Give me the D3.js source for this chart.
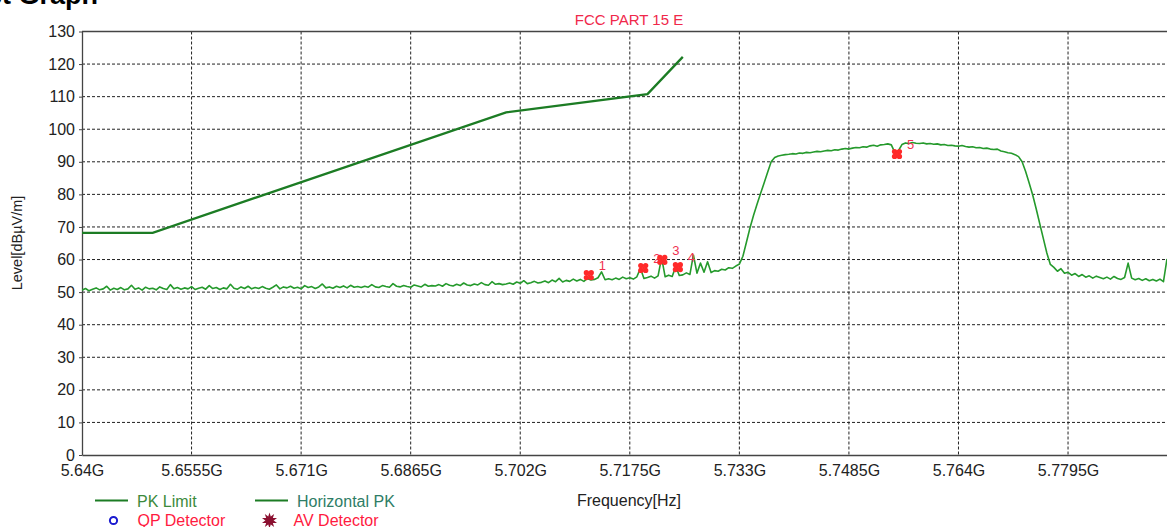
<!DOCTYPE html>
<html>
<head>
<meta charset="utf-8">
<script src="https://cdn.jsdelivr.net/npm/d3@7"></script>
<style>
  html, body { margin: 0; padding: 0; background: #fff; overflow: hidden; }
  svg { display: block; font-family: Arial, "Liberation Sans", sans-serif; }
</style>
</head>
<body>
<svg id="chart" width="1167" height="527"></svg>
<script>
// ---------------- DATA ----------------
const chartTitle = "FCC PART 15 E";
const xTickValues = [5.64, 5.6555, 5.671, 5.6865, 5.702, 5.7175, 5.733, 5.7485, 5.764, 5.7795];
const xTickLabels = ["5.64G", "5.6555G", "5.671G", "5.6865G", "5.702G", "5.7175G", "5.733G", "5.7485G", "5.764G", "5.7795G"];
const yTickValues = [0, 10, 20, 30, 40, 50, 60, 70, 80, 90, 100, 110, 120, 130];

// PK limit line (GHz, dBµV/m)
const limitFreqs = [5.64, 5.65, 5.70, 5.72, 5.725];
const limitLevels = [68.2, 68.2, 105.2, 110.8, 122.2];

// Horizontal PK trace: analyzer sweep start / step (GHz) and measured levels
const sweepStart = 5.64;
const sweepStep = 0.0005;
const hpkLevels = [
  50.6, 51.1, 50.4, 50.9, 51.3, 50.7, 51.0, 51.8, 50.6, 51.2,
  50.8, 51.4, 50.7, 51.0, 52.1, 50.9, 51.3, 50.6, 51.5, 51.0,
  51.2, 50.7, 51.6, 51.1, 50.8, 52.3, 51.0, 51.4, 50.9, 51.3,
  51.0, 51.7, 50.8, 51.2, 51.5, 50.9, 52.0, 51.1, 51.4, 50.8,
  51.3, 51.0, 52.4, 51.2, 50.9, 51.6, 51.1, 51.8, 51.0, 51.4,
  51.1, 51.7, 51.2, 50.9, 51.5, 52.2, 51.0, 51.6, 51.3, 51.8,
  51.2, 51.5, 51.0, 52.0, 51.4, 51.7, 51.1, 51.6, 52.5, 51.3,
  51.6, 51.2, 51.8, 51.4, 51.9, 51.3, 52.1, 51.5, 51.7, 51.4,
  51.8, 51.5, 52.3, 51.6, 51.4, 52.0, 51.7, 51.5, 52.6, 51.8,
  51.6, 52.0, 51.7, 51.5, 52.2, 51.9, 51.6, 52.4, 51.8, 52.0,
  51.9, 52.3, 51.8, 52.6, 52.1, 51.9, 52.4, 52.0, 52.8, 52.2,
  52.0, 52.5, 52.2, 52.9, 52.3, 52.1, 53.2, 52.4, 52.6, 52.3,
  52.5, 52.8, 52.4, 53.1, 52.7, 53.5, 52.6, 52.9, 53.3, 52.8,
  53.0, 53.4, 52.9, 53.7, 53.2, 54.2, 53.1, 53.6, 53.3, 54.0,
  53.4, 53.9, 53.3, 54.2, 53.7, 53.9, 54.4, 56.2, 53.8, 54.1,
  53.8, 54.3, 53.9, 54.6, 54.1, 54.4, 54.0, 54.7, 57.3, 54.2,
  54.5, 54.9, 54.3, 55.0, 60.6, 54.7, 55.2, 54.8, 57.9, 55.1,
  55.3, 55.9, 55.4, 61.4, 55.8, 58.9, 56.1, 59.3, 56.0, 56.6,
  56.4, 57.0, 56.8, 57.5, 57.3, 58.0, 58.6, 61.0, 65.3, 69.7,
  73.5, 77.0, 80.3, 83.5, 86.8, 90.0, 91.3, 91.8, 92.0, 92.2,
  92.3, 92.5, 92.4, 92.7, 92.6, 92.9, 92.8, 93.0, 93.2, 93.1,
  93.3, 93.5, 93.4, 93.7, 93.6, 93.9, 94.1, 93.9, 94.2, 94.4,
  94.3, 94.6, 94.5, 94.9, 95.1, 94.8, 95.2, 95.3, 95.5, 95.2,
  92.8, 93.4, 95.3, 95.8, 95.6, 95.9, 95.7, 95.6, 95.8, 95.5,
  95.6, 95.4, 95.5, 95.2, 95.3, 95.0, 95.1, 94.9, 94.8, 95.0,
  94.7, 94.5, 94.6, 94.3, 94.4, 94.1, 94.2, 93.9, 93.8, 93.9,
  93.3, 93.1, 92.8, 92.6, 92.2, 91.6, 90.0, 87.0, 83.5, 79.8,
  75.5, 71.0, 66.5, 62.0, 58.5, 57.6, 56.4, 57.2, 55.8, 56.1,
  55.2, 55.7, 54.8, 55.4, 54.6, 55.0, 54.3, 54.9, 54.5, 54.1,
  54.6, 54.0, 54.8, 54.2, 53.9, 54.5, 58.9, 54.3, 53.8, 54.2,
  53.6, 54.1, 53.5, 53.9, 53.4, 54.0, 53.2, 60.2
];

// Marker points
const markerIds = ["1", "2", "3", "4", "5"];
const markerFreqs = [5.7117, 5.7194, 5.7221, 5.7243, 5.7553];
const markerLevels = [55.2, 57.4, 59.9, 57.7, 92.4];

// Legend
const legendLines = ["PK Limit", "Horizontal PK"];
const legendDetectors = ["QP Detector", "AV Detector"];

// ---------------- DRAW ----------------
(function draw() {
const svg = d3.select("#chart");
const W = 1167;
const pL = 82, pT = 31.5, pB = 455;
const xStep = 109.56;

const x = d3.scaleLinear().domain([5.64, 5.795]).range([pL, pL + 10 * xStep]);
const y = d3.scaleLinear().domain([0, 130]).range([pB, pT]);

// cut-off heading at top-left
svg.append("text")
  .attr("x", 98).attr("y", 4)
  .attr("text-anchor", "end")
  .attr("font-size", 27).attr("font-weight", "bold")
  .attr("fill", "#000")
  .text("Test Graph");

// title
svg.append("text")
  .attr("x", 629).attr("y", 25)
  .attr("text-anchor", "middle")
  .attr("font-size", 15)
  .attr("fill", "#f0284a")
  .text(chartTitle);

// grid
const grid = svg.append("g");
grid.selectAll("line.h").data(yTickValues.filter(v => v > 0 && v < 130)).join("line")
  .attr("x1", pL).attr("x2", W)
  .attr("y1", d => y(d)).attr("y2", d => y(d))
  .attr("stroke", "#222").attr("stroke-width", 1).attr("stroke-dasharray", "3,2");
grid.selectAll("line.v").data(xTickValues.slice(1)).join("line")
  .attr("x1", d => x(d)).attr("x2", d => x(d))
  .attr("y1", pT).attr("y2", pB)
  .attr("stroke", "#222").attr("stroke-width", 1).attr("stroke-dasharray", "3,2");

// axes
const yAxis = d3.axisLeft(y).tickValues(yTickValues).tickSize(3).tickSizeOuter(0).tickPadding(4);
const gy = svg.append("g").attr("transform", `translate(${pL},0)`).call(yAxis);
gy.select(".domain").attr("stroke", "#444").attr("stroke-width", 1.3);
gy.selectAll(".tick line").attr("stroke", "#444");
gy.selectAll("text").attr("font-size", 16).attr("fill", "#222").attr("font-family", "Arial, 'Liberation Sans', sans-serif");

const xAxis = d3.axisBottom(x).tickValues(xTickValues).tickFormat((d, i) => xTickLabels[i])
  .tickSize(0).tickSizeOuter(0).tickPadding(10);
const gx = svg.append("g").attr("transform", `translate(0,${pB})`).call(xAxis);
gx.select(".domain").attr("stroke", "#444").attr("stroke-width", 1.3);
gx.selectAll("text").attr("font-size", 16).attr("fill", "#222").attr("font-family", "Arial, 'Liberation Sans', sans-serif");

// top border
svg.append("line").attr("x1", pL).attr("x2", W).attr("y1", pT).attr("y2", pT)
  .attr("stroke", "#444").attr("stroke-width", 1.3);

// axis titles
svg.append("text")
  .attr("transform", `translate(22,243) rotate(-90)`)
  .attr("text-anchor", "middle")
  .attr("font-size", 14.5).attr("fill", "#222")
  .text("Level[dBµV/m]");
svg.append("text")
  .attr("x", 629).attr("y", 506)
  .attr("text-anchor", "middle")
  .attr("font-size", 16).attr("fill", "#222")
  .text("Frequency[Hz]");

// clip for plot area
svg.append("clipPath").attr("id", "plotclip").append("rect")
  .attr("x", pL).attr("y", pT).attr("width", W - pL).attr("height", pB - pT);

const line = d3.line().x(d => x(d[0])).y(d => y(d[1]));

// trace
const traceData = hpkLevels.map((v, i) => [sweepStart + i * sweepStep, v]);
svg.append("path")
  .attr("clip-path", "url(#plotclip)")
  .datum(traceData)
  .attr("d", line)
  .attr("fill", "none")
  .attr("stroke", "#259a2c")
  .attr("stroke-width", 1.6)
  .attr("stroke-linejoin", "round");

// limit line
const limitData = limitFreqs.map((f, i) => [f, limitLevels[i]]);
svg.append("path")
  .datum(limitData)
  .attr("d", line)
  .attr("fill", "none")
  .attr("stroke", "#1c7c24")
  .attr("stroke-width", 2.3);

// markers
const markers = markerIds.map((id, i) => ({ id, f: markerFreqs[i], v: markerLevels[i] }));
const mg = svg.append("g").selectAll("g").data(markers).join("g")
  .attr("transform", d => `translate(${x(d.f)},${y(d.v)})`);
[[-2.4, -2.4], [2.4, -2.4], [-2.4, 2.4], [2.4, 2.4]].forEach(o => {
  mg.append("circle").attr("cx", o[0]).attr("cy", o[1]).attr("r", 2.7).attr("fill", "#ff2a2a");
});
mg.append("circle").attr("r", 1.2).attr("fill", "#ff2a2a");
mg.append("text")
  .attr("x", 10).attr("y", -5)
  .attr("font-size", 13).attr("fill", "#f03050")
  .text(d => d.id);

// legend
const lg = svg.append("g");
const legX1 = [95, 255];
legendLines.forEach((t, i) => {
  lg.append("line").attr("x1", legX1[i]).attr("x2", legX1[i] + 33)
    .attr("y1", 500.5).attr("y2", 500.5)
    .attr("stroke", "#1c7c24").attr("stroke-width", 2);
  lg.append("text").attr("x", legX1[i] + 42).attr("y", 506.5)
    .attr("font-size", 16).attr("fill", i === 0 ? "#3c8a3c" : "#2e7d66")
    .text(t);
});
// QP detector symbol
lg.append("circle").attr("cx", 113.5).attr("cy", 520.5).attr("r", 3.6)
  .attr("fill", "none").attr("stroke", "#1a1ad0").attr("stroke-width", 2);
// AV detector symbol (star)
lg.append("path")
  .attr("transform", "translate(269.5,520.5)")
  .attr("d", d3.symbol().type(d3.symbolStar).size(70)())
  .attr("fill", "#8b1030");
lg.append("path")
  .attr("transform", "translate(269.5,520.5) rotate(36)")
  .attr("d", d3.symbol().type(d3.symbolStar).size(70)())
  .attr("fill", "#8b1030");
legendDetectors.forEach((t, i) => {
  lg.append("text").attr("x", [137.5, 293.5][i]).attr("y", 526)
    .attr("font-size", 16).attr("fill", "#ff1a40")
    .text(t);
});
})();
</script>
</body>
</html>
